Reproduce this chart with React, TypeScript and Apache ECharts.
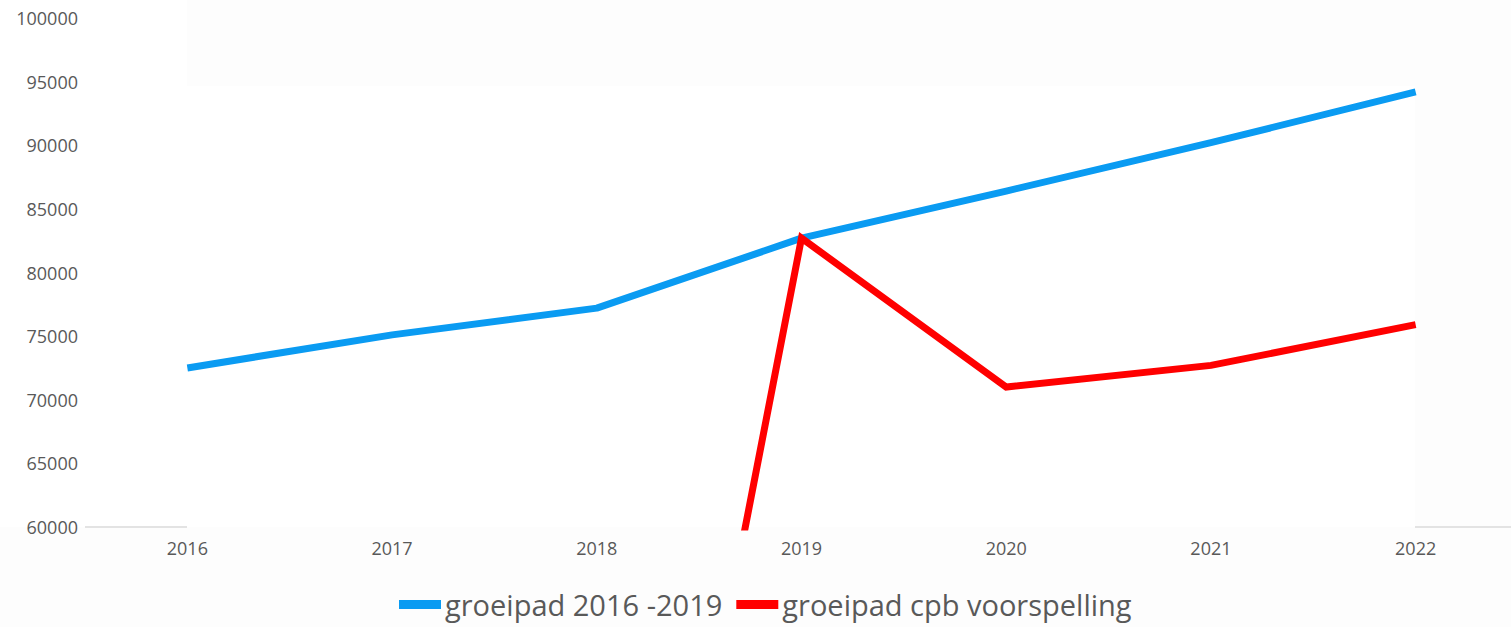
import React, { useEffect, useRef } from "react";
import * as echarts from "echarts";

const years = ["2016", "2017", "2018", "2019", "2020", "2021", "2022"];
const groeipad20162019 = [72500, 75100, 77200, 82700, 86400, 90200, 94200];
const groeipadCpb = [null, null, 0, 82700, 71000, 72700, 75900];
const yMin = 60000;
const yMax = 100000;
const yStep = 5000;

export default function App() {
  const ref = useRef<HTMLDivElement>(null);
  useEffect(() => {
    if (!ref.current) return;
    const chart = echarts.init(ref.current, null, { renderer: "svg" });
    const font = "'Open Sans', sans-serif";
    chart.setOption({
      animation: false,
      backgroundColor: "#fdfdfd",
      graphic: [
        { type: "rect", z: -10, shape: { x: 187, y: 86, width: 1228, height: 441 }, style: { fill: "#ffffff" } },
        { type: "rect", z: -10, shape: { x: 0, y: 0, width: 187, height: 527 }, style: { fill: "#ffffff" } },
        { type: "line", shape: { x1: 85, y1: 527, x2: 187, y2: 527 }, style: { stroke: "#e3e3e3", lineWidth: 2 } },
        { type: "line", shape: { x1: 1415, y1: 527, x2: 1540, y2: 527 }, style: { stroke: "#e3e3e3", lineWidth: 2 } },
      ],
      grid: { left: 85, width: 1433, top: 18, height: 509, containLabel: false },
      legend: {
        bottom: 3,
        left: 394,
        icon: "rect",
        itemWidth: 42,
        itemHeight: 9,
        itemGap: 14,
        textStyle: { fontFamily: font, fontSize: 29, color: "#595959", padding: [0, 0, 0, -1] },
        data: ["groeipad 2016 -2019", "groeipad cpb voorspelling"],
      },
      xAxis: {
        type: "category",
        data: years,
        boundaryGap: true,
        axisLine: { show: false },
        axisTick: { show: false },
        axisLabel: { color: "#595959", fontFamily: font, fontSize: 18, margin: 12 },
      },
      yAxis: {
        type: "value",
        min: yMin,
        max: yMax,
        interval: yStep,
        splitLine: { show: false },
        axisLine: { show: false },
        axisTick: { show: false },
        axisLabel: {
          color: "#595959",
          fontFamily: font,
          fontSize: 18,
          margin: 7,
          formatter: (v: number) => String(v),
        },
      },
      series: [
        {
          name: "groeipad 2016 -2019",
          type: "line",
          data: groeipad20162019,
          symbol: "none",
          color: "#0A9BF2",
          lineStyle: { width: 7, color: "#0A9BF2", join: "round" },
          z: 3,
        },
        {
          name: "groeipad cpb voorspelling",
          type: "line",
          data: groeipadCpb,
          symbol: "none",
          color: "#FF0000",
          clip: true,
          lineStyle: { width: 7, color: "#FF0000", join: "miter" },
          z: 4,
        },
      ],
    });
    return () => chart.dispose();
  }, []);
  return (
    <div
      style={{
        position: "absolute",
        left: 0,
        top: 0,
        width: 1511,
        height: 627,
        overflow: "hidden",
        background: "#fdfdfd",
      }}
    >
      <div ref={ref} style={{ width: 1540, height: 627 }} />
    </div>
  );
}
